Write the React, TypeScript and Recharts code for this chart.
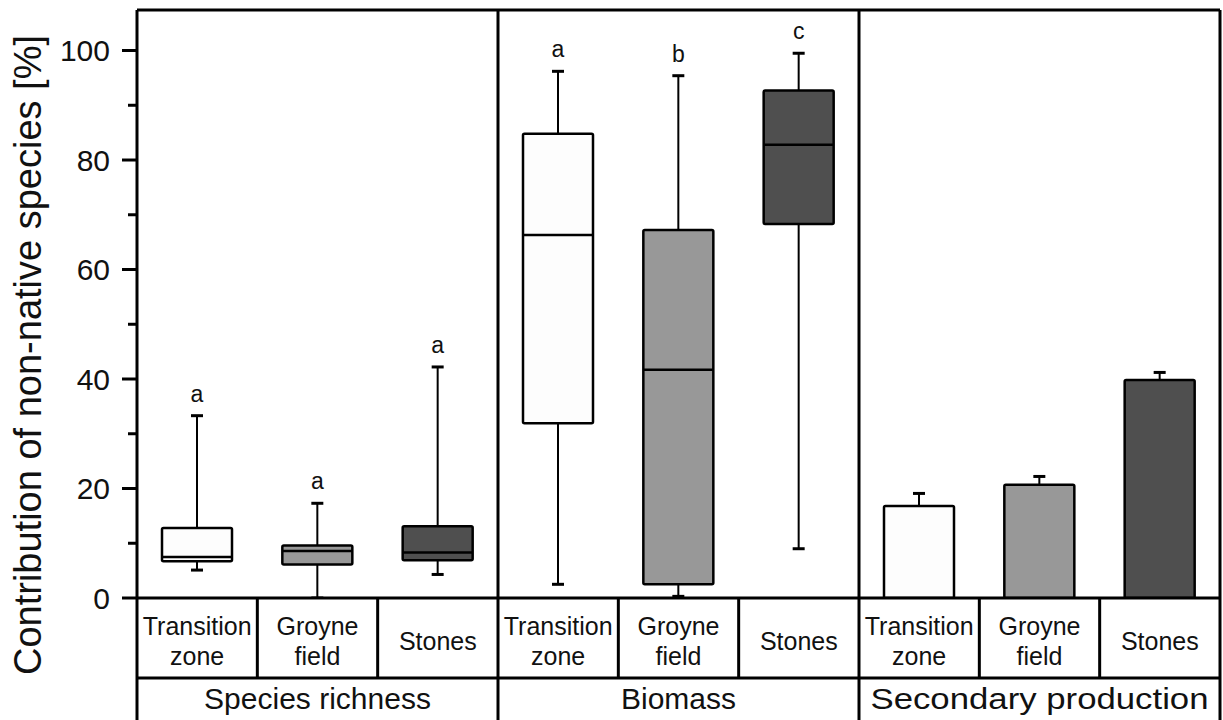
import React from "react";
import { ComposedChart, Bar, XAxis, YAxis, ReferenceLine } from "recharts";

// ---------- data ----------
const groups = ["Species richness", "Biomass", "Secondary production"];
const categoryLines = [["Transition", "zone"], ["Groyne", "field"], ["Stones"]];
const fills = ["#fdfdfd", "#989898", "#4f4f4f"];

// Species richness (box plots)
const richnessLow = [5.1, 0, 4.3];
const richnessQ1 = [6.7, 6.1, 6.9];
const richnessMedian = [7.5, 8.6, 8.3];
const richnessQ3 = [12.8, 9.6, 13.1];
const richnessHigh = [33.3, 17.3, 42.2];
const richnessLetters = ["a", "a", "a"];

// Biomass (box plots)
const biomassLow = [2.5, 0.3, 9.0];
const biomassQ1 = [31.9, 2.5, 68.3];
const biomassMedian = [66.3, 41.7, 82.8];
const biomassQ3 = [84.8, 67.2, 92.7];
const biomassHigh = [96.2, 95.4, 99.5];
const biomassLetters = ["a", "b", "c"];

// Secondary production (bars with upper error)
const productionMean = [16.8, 20.7, 39.8];
const productionUpper = [19.1, 22.2, 41.2];

const yTicks = [0, 10, 20, 30, 40, 50, 60, 70, 80, 90, 100];
const Y_MAX = 107.4;
const tableTicks1 = [0, 0.5, 1, 1.5, 2, 2.5, 3, 3.5, 4, 4.5, 5, 5.5, 6, 6.5, 7, 7.5, 8, 8.5, 9];
const tableTicks2 = [0, 1.5, 3, 4.5, 6, 7.5, 9];

const FONT = "'Liberation Sans', Arial, Helvetica, sans-serif";

// ---------- table built for the library ----------
type Row = {
  key: string;
  pos: number;
  kind: "box" | "bar";
  range: [number, number];
  q1?: number;
  med?: number;
  q3?: number;
  mean?: number;
  letter?: string;
  fill: string;
};

const rows: Row[] = [];
[0, 1, 2].forEach((i) =>
  rows.push({
    key: "sr" + i,
    pos: 0,
    kind: "box",
    range: [richnessLow[i], richnessHigh[i]],
    q1: richnessQ1[i],
    med: richnessMedian[i],
    q3: richnessQ3[i],
    letter: richnessLetters[i],
    fill: fills[i],
  })
);
[0, 1, 2].forEach((i) =>
  rows.push({
    key: "bm" + i,
    pos: 0,
    kind: "box",
    range: [biomassLow[i], biomassHigh[i]],
    q1: biomassQ1[i],
    med: biomassMedian[i],
    q3: biomassQ3[i],
    letter: biomassLetters[i],
    fill: fills[i],
  })
);
[0, 1, 2].forEach((i) =>
  rows.push({
    key: "sp" + i,
    pos: 0,
    kind: "bar",
    range: [0, productionUpper[i]],
    mean: productionMean[i],
    fill: fills[i],
  })
);
rows.forEach((r, i) => (r.pos = i + 0.5));

// ---------- shapes ----------
const BoxShape = (props: any) => {
  const { x, y, width, height, payload } = props;
  if (x == null || y == null) return null;
  const [lo, hi] = payload.range as [number, number];
  const top = Math.min(y, y + height);
  const h = Math.abs(height);
  const py = (v: number) => top + ((hi - v) / (hi - lo)) * h;
  const cx = x + width / 2;
  const cap = 6;
  if (payload.kind === "box") {
    const yq3 = py(payload.q3);
    const yq1 = py(payload.q1);
    const ymed = py(payload.med);
    const yhi = py(hi);
    const ylo = py(lo);
    return (
      <g>
        <line x1={cx} x2={cx} y1={yhi} y2={yq3} stroke="#000" strokeWidth={2} />
        <line x1={cx} x2={cx} y1={yq1} y2={ylo} stroke="#000" strokeWidth={2} />
        <line x1={cx - cap} x2={cx + cap} y1={yhi} y2={yhi} stroke="#000" strokeWidth={3} />
        <line x1={cx - cap} x2={cx + cap} y1={ylo} y2={ylo} stroke="#000" strokeWidth={3} />
        <rect x={x} y={yq3} width={width} height={yq1 - yq3} fill={payload.fill} stroke="#000" strokeWidth={2.5} rx={1.5} />
        <line x1={x} x2={x + width} y1={ymed} y2={ymed} stroke="#000" strokeWidth={2.5} />
        <text x={cx} y={yhi - 14} textAnchor="middle" fontSize={23} fontFamily={FONT} fill="#111">
          {payload.letter}
        </text>
      </g>
    );
  }
  const ym = py(payload.mean);
  const y0 = py(0);
  const yhi = py(hi);
  return (
    <g>
      <line x1={cx} x2={cx} y1={yhi} y2={ym} stroke="#000" strokeWidth={2} />
      <line x1={cx - cap} x2={cx + cap} y1={yhi} y2={yhi} stroke="#000" strokeWidth={3} />
      <rect x={x} y={ym} width={width} height={y0 - ym} fill={payload.fill} stroke="#000" strokeWidth={2.5} rx={1.5} />
    </g>
  );
};

const Y_TICK_SIZE = 15;
const Y_TICK_MARGIN = 12;

const YTick = (props: any) => {
  const { x, y, payload } = props;
  const v = payload.value;
  const major = v % 20 === 0;
  const axisX = x + Y_TICK_SIZE + Y_TICK_MARGIN;
  return (
    <g>
      <line x1={axisX - (major ? 15 : 9)} x2={axisX} y1={y} y2={y} stroke="#000" strokeWidth={3} />
      {major && (
        <text x={x} y={y} dy="0.36em" textAnchor="end" fontSize={30} fontFamily={FONT} fill="#111">
          {v}
        </text>
      )}
    </g>
  );
};

const CatTick = (props: any) => {
  const { x, y, payload } = props;
  const v = payload.value as number;
  if (Number.isInteger(v)) {
    return <line x1={x} x2={x} y1={y} y2={y + 80} stroke="#000" strokeWidth={3} />;
  }
  const lines = categoryLines[Math.floor(v) % 3];
  if (lines.length === 1) {
    return (
      <text x={x} y={y + 52} textAnchor="middle" fontSize={25} fontFamily={FONT} fill="#111">
        {lines[0]}
      </text>
    );
  }
  return (
    <text textAnchor="middle" fontSize={25} fontFamily={FONT} fill="#111">
      <tspan x={x} y={y + 37}>{lines[0]}</tspan>
      <tspan x={x} y={y + 67}>{lines[1]}</tspan>
    </text>
  );
};

const GroupTick = (props: any) => {
  const { x, y, payload } = props;
  const v = payload.value as number;
  if (Number.isInteger(v)) {
    return <line x1={x} x2={x} y1={y} y2={y + 42} stroke="#000" strokeWidth={3} />;
  }
  const idx = Math.floor(v / 3);
  const label = groups[idx];
  return (
    <text
      x={x}
      y={y + 31}
      textAnchor="middle"
      fontSize={30}
      fontFamily={FONT}
      fill="#111"
      {...(idx === 2 ? { textLength: 338, lengthAdjust: "spacingAndGlyphs" } : {})}
    >
      {label}
    </text>
  );
};

const YTitle = () => (
  <text
    x={41}
    y={355}
    transform="rotate(-90, 41, 355)"
    textAnchor="middle"
    fontSize={38}
    fontFamily={FONT}
    fill="#111"
  >
    Contribution of non-native species [%]
  </text>
);

export default function App() {
  return (
    <div style={{ position: "absolute", left: 0, top: 0, background: "#fff" }}>
      <ComposedChart
        width={1223}
        height={720}
        data={rows}
        margin={{ top: 10, right: 3, bottom: 0, left: 0 }}
      >
        <XAxis
          xAxisId="t1"
          dataKey="pos"
          type="number"
          domain={[0, 9]}
          allowDataOverflow
          ticks={tableTicks1}
          interval={0}
          height={80}
          tickSize={0}
          tickMargin={0}
          tickLine={false}
          axisLine={{ stroke: "#000", strokeWidth: 3 }}
          tick={<CatTick />}
        />
        <XAxis
          xAxisId="t2"
          dataKey="pos"
          type="number"
          domain={[0, 9]}
          allowDataOverflow
          ticks={tableTicks2}
          interval={0}
          height={42}
          tickSize={0}
          tickMargin={0}
          tickLine={false}
          axisLine={{ stroke: "#000", strokeWidth: 3 }}
          tick={<GroupTick />}
        />
        <XAxis xAxisId="cat" dataKey="key" type="category" hide height={0} />
        <YAxis
          type="number"
          domain={[0, Y_MAX]}
          allowDataOverflow
          ticks={yTicks}
          interval={0}
          width={137}
          tickSize={Y_TICK_SIZE}
          tickMargin={Y_TICK_MARGIN}
          tickLine={false}
          axisLine={{ stroke: "#000", strokeWidth: 3 }}
          tick={<YTick />}
          label={{ content: () => <YTitle /> }}
        />
        <ReferenceLine xAxisId="t1" x={3} stroke="#000" strokeWidth={3} />
        <ReferenceLine xAxisId="t1" x={6} stroke="#000" strokeWidth={3} />
        <ReferenceLine xAxisId="t1" x={9} stroke="#000" strokeWidth={3} />
        <ReferenceLine xAxisId="t1" y={Y_MAX} stroke="#000" strokeWidth={3} />
        <Bar
          xAxisId="cat"
          dataKey="range"
          barSize={70}
          shape={<BoxShape />}
          isAnimationActive={false}
        />
      </ComposedChart>
    </div>
  );
}
